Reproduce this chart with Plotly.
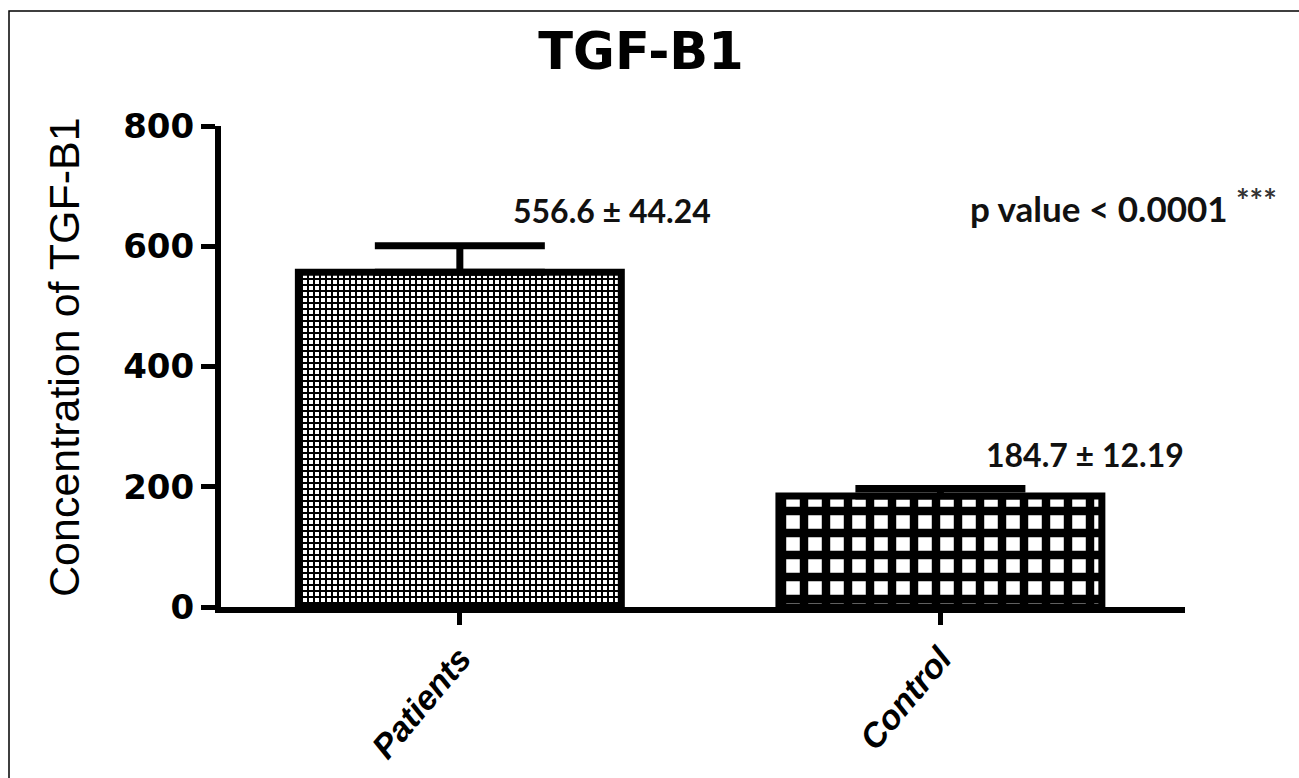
import plotly.graph_objects as go

# Group means and standard errors of TGF-B1 concentration
groups = ["Patients", "Control"]
means = [556.6, 184.7]
sems = [44.24, 12.19]
y_ticks = [0, 200, 400, 600, 800]
p_label = "p value < 0.0001"
stars = "***"

W, H = 1299, 778
L, R, T, B = 221, 114, 126, 171

fig = go.Figure()
fig.add_trace(go.Bar(
    x=groups,
    y=means,
    width=0.672,
    marker=dict(
        color="white",
        line=dict(color="black", width=7),
        pattern=dict(
            shape=["+", "+"],
            size=[6, 22],
            solidity=[0.55, 0.62],
            fgcolor="black",
            bgcolor="white",
            fillmode="replace",
        ),
    ),
    error_y=dict(
        type="data",
        symmetric=False,
        array=sems,
        arrayminus=[0, 0],
        color="black",
        thickness=7,
        width=85,
    ),
    showlegend=False,
))

# mean ± SEM labels above each bar
label_pos = [(0.316, 660), (1.30, 253)]
for (lx, ly), m, s in zip(label_pos, means, sems):
    fig.add_annotation(
        x=lx, y=ly, xref="x", yref="y",
        text=f"<b>{m} ± {s}</b>",
        showarrow=False, xanchor="center", yanchor="middle",
        font=dict(family="Lato", size=32, color="#111111"),
    )

fig.add_annotation(
    x=(968 - L) / (W - L - R), y=(H - B - 208) / (H - B - T),
    xref="paper", yref="paper", text=f"<b>{p_label}</b>",
    showarrow=False, xanchor="left", yanchor="middle",
    font=dict(family="Lato", size=35, color="#111111"),
)
fig.add_annotation(
    x=(1234 - L) / (W - L - R), y=(H - B - 200) / (H - B - T),
    xref="paper", yref="paper", text=f"<b>{stars}</b>",
    showarrow=False, xanchor="left", yanchor="middle",
    font=dict(family="Lato", size=32, color="#333333"),
)

# y-axis title
fig.add_annotation(
    x=(64 - L) / (W - L - R), y=(H - B - 357) / (H - B - T),
    xref="paper", yref="paper", text="Concentration of TGF-B1",
    textangle=-90, showarrow=False, xanchor="center", yanchor="middle",
    font=dict(family="Liberation Sans", size=43, color="black"),
)

# outer frame
fig.add_shape(
    type="rect", xref="paper", yref="paper",
    x0=(9 - L) / (W - L - R), x1=(1310 - L) / (W - L - R),
    y0=(H - B - 800) / (H - B - T), y1=(H - B - 11) / (H - B - T),
    line=dict(color="black", width=1.5), fillcolor="rgba(0,0,0,0)",
)

fig.update_layout(
    width=W, height=H,
    margin=dict(l=L, r=R, t=T, b=B, autoexpand=False),
    paper_bgcolor="white", plot_bgcolor="white",
    title=dict(
        text="<b>TGF-B1</b>",
        x=(641 - L) / (W - L - R), xref="paper", xanchor="center",
        y=1 - 51 / H, yref="container", yanchor="middle",
        font=dict(family="DejaVu Sans", size=51, color="black"),
    ),
    xaxis=dict(
        type="category",
        categoryorder="array", categoryarray=groups,
        range=[-0.497, 1.509],
        automargin=False,
        showline=True, linecolor="black", linewidth=6,
        ticks="outside", ticklen=12, tickwidth=5, tickcolor="black",
        tickangle=-50,
        tickfont=dict(family="Liberation Sans", size=34, color="black",
                      weight="bold", style="italic"),
        showgrid=False, zeroline=False,
    ),
    yaxis=dict(
        range=[0, 800],
        tickmode="array", tickvals=y_ticks,
        automargin=False,
        showline=True, linecolor="black", linewidth=6,
        ticks="outside", ticklen=14, tickwidth=5, tickcolor="black",
        tickfont=dict(family="DejaVu Sans", size=34, color="black", weight="bold"),
        showgrid=False, zeroline=False,
    ),
)

fig.write_html("out.html")
